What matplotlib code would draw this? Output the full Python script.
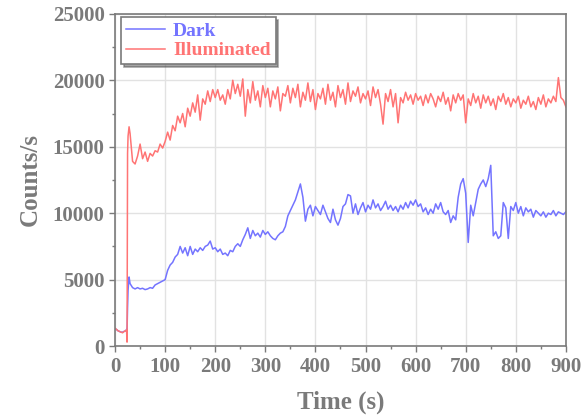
import numpy as np
import matplotlib.pyplot as plt
from matplotlib.ticker import MultipleLocator

# early part (dark period, then light switched on at ~24 s)
t_early = [0, 3, 6, 9, 12, 15, 18, 21, 23, 24, 25, 26, 28, 30]
illum_early = [1350, 1250, 1150, 1100, 1050, 1000, 1100, 1150, 1200, 300, 14500, 15800, 16500, 16000]
dark_early = [1300, 1250, 1150, 1100, 1050, 1050, 1100, 1150, 1250, 1200, 2900, 4200, 5200, 4700]

# rest of the trace, every 5 s from 35 s to 900 s
t_main = np.arange(35, 901, 5)
illum_main = [
    13900, 13700, 14300, 15200, 14100, 14600, 13900, 14500, 14300, 14700,  # 35-80
    14600, 15200, 14900, 15400, 16100, 15500, 16600, 16200, 17300, 16800,  # 85-130
    17500, 16500, 17900, 17300, 18300, 17600, 18900, 17000, 18600, 18200,  # 135-180
    19200, 18400, 19300, 18700, 19300, 18500, 18900, 18200, 19300, 18600,  # 185-230
    20000, 19000, 19700, 18800, 20100, 17300, 19300, 18300, 19900, 18500,  # 235-280
    19200, 18000, 19600, 18700, 19400, 18000, 19200, 18600, 19500, 17700,  # 285-330
    19000, 18800, 19600, 18300, 19400, 18700, 19700, 18000, 19100, 18500,  # 335-380
    19800, 18400, 19300, 17800, 19000, 18600, 19400, 18200, 19700, 18500,  # 385-430
    19100, 18000, 19600, 18700, 19300, 18200, 19800, 18400, 19200, 18800,  # 435-480
    19500, 18300, 19000, 18600, 19200, 18100, 19500, 18700, 19300, 18200,  # 485-530
    16700, 19000, 18400, 19300, 18000, 19000, 16800, 18700, 18300, 19100,  # 535-580
    18500, 18900, 18200, 19000, 18500, 18800, 18100, 18900, 18300, 19000,  # 585-630
    18600, 18000, 18800, 18400, 19100, 18200, 18700, 17700, 18900, 18300,  # 635-680
    19000, 18500, 18900, 16800, 18600, 18100, 19000, 18300, 18800, 17900,  # 685-730
    18900, 18300, 18800, 18100, 18600, 17800, 18800, 18400, 19000, 18200,  # 735-780
    18700, 18000, 18600, 18300, 18800, 17900, 18500, 18200, 18800, 18000,  # 785-830
    18400, 17800, 18700, 18200, 18900, 18000, 18600, 18300, 18800, 18400,  # 835-880
    20200, 18700, 18500, 18000,                                            # 885-900
]
dark_main = [
    4400, 4300, 4400, 4300, 4350, 4250, 4300, 4400, 4350, 4600,  # 35-80
    4700, 4800, 4900, 5000, 5700, 6100, 6300, 6700, 6900, 7500,  # 85-130
    7000, 7400, 6800, 7500, 6900, 7300, 7100, 7400, 7200, 7500,  # 135-180
    7600, 7900, 7300, 7400, 7100, 7300, 6900, 7000, 6800, 7200,  # 185-230
    7100, 7500, 7700, 7500, 8000, 8400, 8900, 8100, 8700, 8300,  # 235-280
    8500, 8200, 8700, 8400, 8600, 8300, 8100, 8000, 8300, 8500,  # 285-330
    8600, 9000, 9800, 10200, 10600, 11000, 11600, 12200, 11200, 9400,  # 335-380
    10300, 10600, 9800, 10500, 10200, 9900, 10600, 10100, 9600, 9300,  # 385-430
    10300, 9500, 9100, 9600, 10500, 10700, 11400, 11300, 10000, 10700,  # 435-480
    9900, 10400, 10800, 10100, 10600, 10300, 11000, 10400, 10700, 10200,  # 485-530
    10500, 10900, 10300, 10600, 10200, 10500, 10100, 10600, 10300, 10800,  # 535-580
    10400, 10900, 10600, 11000, 10500, 10700, 10100, 10400, 9900, 10300,  # 585-630
    10000, 10700, 10300, 10800, 10100, 9900, 10200, 9300, 9800, 9500,  # 635-680
    11200, 12200, 12600, 11500, 7800, 10600, 9800, 10800, 11800, 12200,  # 685-730
    12500, 12000, 12600, 13600, 8300, 8600, 8100, 8300, 10800, 10400,  # 735-780
    8100, 10500, 10200, 10800, 10000, 10500, 9800, 10400, 10100, 10300,  # 785-830
    9700, 10200, 10000, 9800, 10100, 9700, 10000, 9900, 10200, 9800,  # 835-880
    10100, 10000, 9900, 10100,  # 885-900
]

time = np.concatenate([t_early, t_main])
illuminated = np.concatenate([illum_early, illum_main])
dark = np.concatenate([dark_early, dark_main])

blue = '#7474ff'
red = '#ff7474'
gray = '#7a7a7a'

plt.rcParams['font.family'] = 'Liberation Serif'
plt.rcParams['font.weight'] = 'bold'

fig = plt.figure(figsize=(5.81, 4.19), dpi=100)
ax = fig.add_axes([0.198, 0.174, 0.776, 0.793])

ax.plot(time, dark, color=blue, lw=1.1, label='Dark')
ax.plot(time, illuminated, color=red, lw=1.1, label='Illuminated')

ax.set_xlim(0, 900)
ax.set_ylim(0, 25000)
ax.xaxis.set_major_locator(MultipleLocator(100))
ax.xaxis.set_minor_locator(MultipleLocator(50))
ax.yaxis.set_major_locator(MultipleLocator(5000))
ax.yaxis.set_minor_locator(MultipleLocator(2500))

ax.grid(True, which='major', color='#e2e2e2', lw=1.0)
ax.set_axisbelow(True)
for s in ax.spines.values():
    s.set_color(gray)
    s.set_linewidth(1.2)
ax.tick_params(which='major', direction='out', length=4, width=1, color=gray,
               labelsize=15, labelcolor=gray, top=False, right=False)
ax.tick_params(which='minor', direction='out', length=2.5, width=1, color=gray,
               top=False, right=False)

ax.set_xlabel('Time (s)', fontsize=18, color=gray, fontweight='bold', labelpad=10)
ax.set_ylabel('Counts/s', fontsize=18, color=gray, fontweight='bold', labelpad=8)

leg = ax.legend(loc='upper left', bbox_to_anchor=(0.01, 0.995), fancybox=False, shadow=True,
                framealpha=1, edgecolor=gray, fontsize=14, handlelength=2.0,
                borderaxespad=0.1, labelspacing=0.1, handletextpad=0.4, borderpad=0.25)
leg.get_frame().set_linewidth(1.2)
for txt, c in zip(leg.get_texts(), [blue, red]):
    txt.set_color(c)

plt.savefig('out.png', dpi=100)
